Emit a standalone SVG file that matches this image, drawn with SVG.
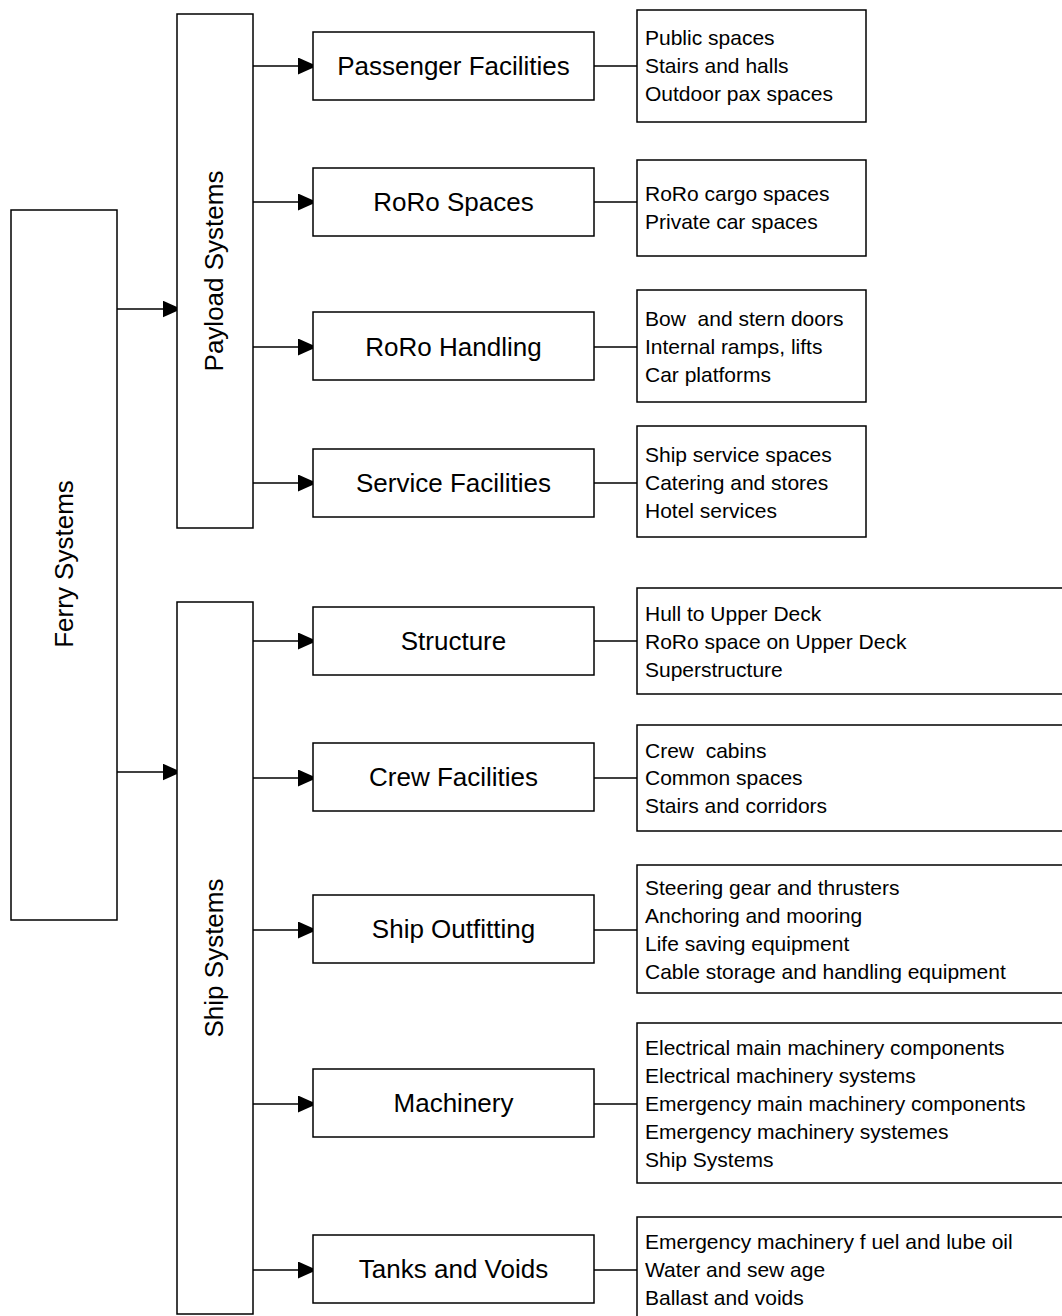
<svg xmlns="http://www.w3.org/2000/svg" width="1062" height="1316" viewBox="0 0 1062 1316">
<defs>
<marker id="arr" viewBox="0 0 19 17" refX="19" refY="8.5" markerWidth="19" markerHeight="17" markerUnits="userSpaceOnUse" orient="auto">
<path d="M0,0 L19,8.5 L0,17 z" fill="#000"/>
</marker>
<style>
rect{fill:#fff;stroke:#000;stroke-width:1.5}
.lbl{font-family:"Liberation Sans",Arial,sans-serif;font-size:26px;fill:#000;text-anchor:middle}
.lst{font-family:"Liberation Sans",Arial,sans-serif;font-size:21px;fill:#000;white-space:pre}
.c line{stroke:#000;stroke-width:1.5}
.a{marker-end:url(#arr)}
</style>
</defs>
<rect x="0" y="0" width="1062" height="1316" style="stroke:none"/>

<g class="c" id="connectors">
<line class="a" x1="117" y1="309" x2="181.5" y2="309"/>
<line class="a" x1="117" y1="772" x2="181.5" y2="772"/>
<line class="a" x1="253" y1="66" x2="317" y2="66"/>
<line class="a" x1="253" y1="202" x2="317" y2="202"/>
<line class="a" x1="253" y1="347" x2="317" y2="347"/>
<line class="a" x1="253" y1="483" x2="317" y2="483"/>
<line class="a" x1="253" y1="641" x2="317" y2="641"/>
<line class="a" x1="253" y1="778" x2="317" y2="778"/>
<line class="a" x1="253" y1="930" x2="317" y2="930"/>
<line class="a" x1="253" y1="1104" x2="317" y2="1104"/>
<line class="a" x1="253" y1="1270" x2="317" y2="1270"/>
<line x1="594" y1="66" x2="639" y2="66"/>
<line x1="594" y1="202" x2="639" y2="202"/>
<line x1="594" y1="347" x2="639" y2="347"/>
<line x1="594" y1="483" x2="639" y2="483"/>
<line x1="594" y1="641" x2="639" y2="641"/>
<line x1="594" y1="778" x2="639" y2="778"/>
<line x1="594" y1="930" x2="639" y2="930"/>
<line x1="594" y1="1104" x2="639" y2="1104"/>
<line x1="594" y1="1270" x2="639" y2="1270"/>
</g>

<g id="ferry">
<rect x="11" y="210" width="106" height="710"/>
<text class="lbl" transform="translate(73,564) rotate(-90)">Ferry Systems</text>
</g>
<g id="payload">
<rect x="177" y="14" width="76" height="514"/>
<text class="lbl" transform="translate(223,271) rotate(-90)">Payload Systems</text>
</g>
<g id="ship">
<rect x="177" y="602" width="76" height="712"/>
<text class="lbl" transform="translate(223,958) rotate(-90)">Ship Systems</text>
</g>

<g id="passenger">
<rect x="313" y="32" width="281" height="68"/>
<text class="lbl" x="453.5" y="75">Passenger Facilities</text>
</g>
<g id="roro-spaces">
<rect x="313" y="168" width="281" height="68"/>
<text class="lbl" x="453.5" y="211">RoRo Spaces</text>
</g>
<g id="roro-handling">
<rect x="313" y="312" width="281" height="68"/>
<text class="lbl" x="453.5" y="355.5">RoRo Handling</text>
</g>
<g id="service">
<rect x="313" y="449" width="281" height="68"/>
<text class="lbl" x="453.5" y="492">Service Facilities</text>
</g>
<g id="structure">
<rect x="313" y="607" width="281" height="68"/>
<text class="lbl" x="453.5" y="650">Structure</text>
</g>
<g id="crew">
<rect x="313" y="743" width="281" height="68"/>
<text class="lbl" x="453.5" y="786">Crew Facilities</text>
</g>
<g id="outfitting">
<rect x="313" y="895" width="281" height="68"/>
<text class="lbl" x="453.5" y="938">Ship Outfitting</text>
</g>
<g id="machinery">
<rect x="313" y="1069" width="281" height="68"/>
<text class="lbl" x="453.5" y="1112">Machinery</text>
</g>
<g id="tanks">
<rect x="313" y="1235" width="281" height="68"/>
<text class="lbl" x="453.5" y="1278">Tanks and Voids</text>
</g>

<g id="passenger-list">
<rect x="637" y="10" width="229" height="112"/>
<text class="lst" x="645" y="45">Public spaces</text>
<text class="lst" x="645" y="73">Stairs and halls</text>
<text class="lst" x="645" y="101">Outdoor pax spaces</text>
</g>
<g id="roro-spaces-list">
<rect x="637" y="160" width="229" height="96"/>
<text class="lst" x="645" y="201">RoRo cargo spaces</text>
<text class="lst" x="645" y="229">Private car spaces</text>
</g>
<g id="roro-handling-list">
<rect x="637" y="290" width="229" height="112"/>
<text class="lst" x="645" y="326">Bow  and stern doors</text>
<text class="lst" x="645" y="354">Internal ramps, lifts</text>
<text class="lst" x="645" y="382">Car platforms</text>
</g>
<g id="service-list">
<rect x="637" y="426" width="229" height="111"/>
<text class="lst" x="645" y="462">Ship service spaces</text>
<text class="lst" x="645" y="490">Catering and stores</text>
<text class="lst" x="645" y="518">Hotel services</text>
</g>
<g id="structure-list">
<rect x="637" y="588" width="440" height="106"/>
<text class="lst" x="645" y="621">Hull to Upper Deck</text>
<text class="lst" x="645" y="649">RoRo space on Upper Deck</text>
<text class="lst" x="645" y="677">Superstructure</text>
</g>
<g id="crew-list">
<rect x="637" y="725" width="440" height="106"/>
<text class="lst" x="645" y="758">Crew  cabins</text>
<text class="lst" x="645" y="785">Common spaces</text>
<text class="lst" x="645" y="813">Stairs and corridors</text>
</g>
<g id="outfitting-list">
<rect x="637" y="865" width="440" height="128"/>
<text class="lst" x="645" y="895">Steering gear and thrusters</text>
<text class="lst" x="645" y="923">Anchoring and mooring</text>
<text class="lst" x="645" y="951">Life saving equipment</text>
<text class="lst" x="645" y="979">Cable storage and handling equipment</text>
</g>
<g id="machinery-list">
<rect x="637" y="1023" width="440" height="160"/>
<text class="lst" x="645" y="1055">Electrical main machinery components</text>
<text class="lst" x="645" y="1083">Electrical machinery systems</text>
<text class="lst" x="645" y="1111">Emergency main machinery components</text>
<text class="lst" x="645" y="1139">Emergency machinery systemes</text>
<text class="lst" x="645" y="1167">Ship Systems</text>
</g>
<g id="tanks-list">
<rect x="637" y="1217" width="440" height="120"/>
<text class="lst" x="645" y="1249">Emergency machinery f uel and lube oil</text>
<text class="lst" x="645" y="1277">Water and sew age</text>
<text class="lst" x="645" y="1305">Ballast and voids</text>
</g>
</svg>
